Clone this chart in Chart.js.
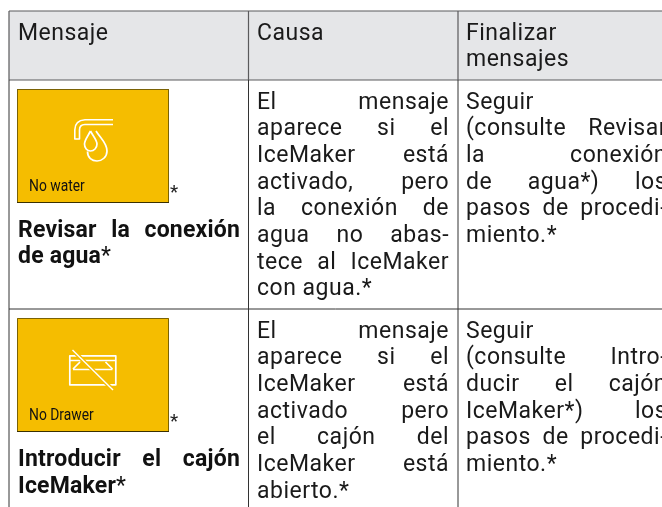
<!DOCTYPE html>
<html>
<head>
<meta charset="utf-8">
<style>
  html, body { margin: 0; padding: 0; background: #fff; }
  canvas { display: block; }
</style>
<script src="https://cdn.jsdelivr.net/npm/chart.js@4"></script>
</head>
<body>
<canvas id="miTabla" width="662" height="507"></canvas>
<script>
// Textos de la tabla
var encabezado_mensaje = ["Mensaje"];
var encabezado_causa = ["Causa"];
var encabezado_finalizar = ["Finalizar", "mensajes"];

var panel_etiquetas = ["No water", "No Drawer"];
var titulo_agua = ["Revisar la conexión", "de agua*"];
var titulo_cajon = ["Introducir el cajón", "IceMaker*"];

var causa_agua = ["El mensaje", "aparece si el", "IceMaker está", "activado, pero", "la conexión de", "agua no abas-", "tece al IceMaker", "con agua.*"];
var causa_cajon = ["El mensaje", "aparece si el", "IceMaker está", "activado pero", "el cajón del", "IceMaker está", "abierto.*"];

var fin_agua = ["Seguir", "(consulte Revisar", "la conexión", "de agua*) los", "pasos de procedi-", "miento.*"];
var fin_cajon = ["Seguir", "(consulte Intro-", "ducir el cajón", "IceMaker*) los", "pasos de procedi-", "miento.*"];

// Geometría de la tabla
var col_x = [9, 248.5, 458];
var fila_y = [11, 80, 309];
var FUENTE = "Roboto, sans-serif";
var TAM = 23;
var PASO = 26.7;

function escribir_linea(c, texto, x, y, derecha, justificar, peso) {
    c.font = peso + " " + TAM + "px " + FUENTE;
    c.letterSpacing = peso === 700 ? "0.2px" : "0.5px";
    var negrita_con_asterisco = peso === 700 && texto.endsWith("*");
    if (negrita_con_asterisco) texto = texto.slice(0, -1);
    var palabras = texto.split(" ");
    var hueco = c.measureText(" ").width;
    if (justificar && palabras.length > 1) {
        var suma = palabras.reduce(function (t, p) { return t + c.measureText(p).width; }, 0);
        hueco = (derecha - x - suma) / (palabras.length - 1);
    }
    var px = x;
    palabras.forEach(function (p) {
        c.fillText(p, px, y);
        px += c.measureText(p).width + hueco;
    });
    if (negrita_con_asterisco) {
        c.font = "400 " + TAM + "px " + FUENTE;
        c.fillText("*", px - hueco, y);
    }
}

// Párrafo justificado: la última línea queda alineada a la izquierda
function escribir_parrafo(c, lineas, x, y, derecha, peso, sueltas) {
    lineas.forEach(function (l, i) {
        var justificar = i < lineas.length - 1 && !(sueltas || []).includes(i);
        escribir_linea(c, l, x, y + i * PASO, derecha, justificar, peso);
    });
}

function dibujar_panel(c, x, y, ancho, alto, etiqueta) {
    c.fillStyle = "#f5bd00";
    c.fillRect(x, y, ancho, alto);
    c.strokeStyle = "#7a6205";
    c.lineWidth = 1;
    c.strokeRect(x + 0.5, y + 0.5, ancho - 1, alto - 1);
    c.strokeStyle = "#3a3000";
    c.beginPath();
    c.moveTo(x, y + alto - 0.5);
    c.lineTo(x + ancho, y + alto - 0.5);
    c.stroke();
    c.save();
    c.fillStyle = "#111";
    c.translate(x + 12, y + alto - 12);
    c.scale(0.84, 1);
    c.font = "400 16.5px " + FUENTE;
    c.letterSpacing = "0px";
    c.fillText(etiqueta, 0, 0);
    c.restore();
    c.fillStyle = "#222";
    c.font = "400 19px " + FUENTE;
    c.letterSpacing = "0px";
    c.fillText("*", x + ancho + 1, y + alto - 5);
}

function icono_agua(c, x, y) {
    c.strokeStyle = "#fff";
    c.lineWidth = 1.6;
    c.lineJoin = "round";
    // grifo
    c.beginPath();
    c.moveTo(x + 39, y + 0.8);
    c.lineTo(x + 11, y + 0.8);
    c.quadraticCurveTo(x + 0.8, y + 1.5, x + 0.8, y + 11);
    c.lineTo(x + 0.8, y + 20);
    c.lineTo(x + 5.5, y + 20);
    c.lineTo(x + 5.5, y + 11);
    c.quadraticCurveTo(x + 5.5, y + 5.5, x + 11, y + 5.5);
    c.lineTo(x + 39, y + 5.5);
    c.stroke();
    // gota grande
    c.lineWidth = 1.7;
    c.beginPath();
    c.moveTo(x + 22, y + 12);
    c.bezierCurveTo(x + 27, y + 20, x + 33, y + 24, x + 33, y + 32);
    c.bezierCurveTo(x + 33, y + 38, x + 28, y + 42, x + 23, y + 42);
    c.bezierCurveTo(x + 18, y + 42, x + 13.5, y + 39, x + 13.5, y + 32.5);
    c.stroke();
    // gota pequeña
    c.beginPath();
    c.moveTo(x + 16.5, y + 12);
    c.bezierCurveTo(x + 19, y + 17, x + 23, y + 21, x + 23, y + 25);
    c.bezierCurveTo(x + 23, y + 29, x + 20, y + 32, x + 16.5, y + 32);
    c.bezierCurveTo(x + 13, y + 32, x + 10.5, y + 29, x + 10.5, y + 25);
    c.bezierCurveTo(x + 10.5, y + 21, x + 14, y + 17, x + 16.5, y + 12);
    c.stroke();
}

function icono_cajon(c, x, y) {
    c.strokeStyle = "#fff";
    c.lineWidth = 1.7;
    c.strokeRect(x + 0.8, y + 0.8, 46, 29);
    c.beginPath();
    c.moveTo(x, y + 5.5);
    c.lineTo(x + 47, y + 5.5);
    c.moveTo(x + 4, y + 14);
    c.lineTo(x + 11, y + 7);
    c.moveTo(x + 43.5, y + 14);
    c.lineTo(x + 36.5, y + 7);
    c.moveTo(x + 4, y + 14.5);
    c.lineTo(x + 43.5, y + 14.5);
    c.stroke();
    // tachado con borde del color del panel
    c.strokeStyle = "#f5bd00";
    c.lineWidth = 4;
    c.beginPath();
    c.moveTo(x + 3.5, y - 5);
    c.lineTo(x + 44, y + 35);
    c.stroke();
    c.strokeStyle = "#fff";
    c.lineWidth = 1.4;
    c.stroke();
}

var tabla_plugin = {
    id: "tabla",
    afterDraw: function (chart) {
        var c = chart.ctx;
        var X = chart.scales.x, Y = chart.scales.y;
        var x0 = X.getPixelForValue(col_x[0]), x1 = X.getPixelForValue(col_x[1]), x2 = X.getPixelForValue(col_x[2]);
        var y0 = Y.getPixelForValue(fila_y[0]), y1 = Y.getPixelForValue(fila_y[1]), y2 = Y.getPixelForValue(fila_y[2]);
        c.save();

        // cabecera
        c.fillStyle = "#e5e6e8";
        c.fillRect(x0, y0, 662 - x0, y1 - y0);

        // líneas
        c.strokeStyle = "#5a5a5c";
        c.lineWidth = 1.2;
        c.beginPath();
        c.moveTo(x0, y0); c.lineTo(662, y0);
        c.moveTo(x0, y1); c.lineTo(662, y1);
        c.moveTo(x0, y0); c.lineTo(x0, y1);
        c.moveTo(x1, y0); c.lineTo(x1, y1);
        c.moveTo(x2, y0); c.lineTo(x2, y1);
        c.stroke();
        c.strokeStyle = "#333";
        c.lineWidth = 1;
        c.beginPath();
        c.moveTo(x0, y1); c.lineTo(x0, 507);
        c.moveTo(x1, y1); c.lineTo(x1, 507);
        c.moveTo(x2, y1); c.lineTo(x2, 507);
        c.moveTo(x0, y2); c.lineTo(662, y2);
        c.stroke();

        // textos de cabecera
        c.fillStyle = "#1a1a1a";
        c.textBaseline = "alphabetic";
        escribir_parrafo(c, encabezado_mensaje, 18, 39.5, 240, 400);
        escribir_parrafo(c, encabezado_causa, 257, 39.5, 449, 400);
        escribir_parrafo(c, encabezado_finalizar, 466, 39.5, 660, 400);

        // paneles
        dibujar_panel(c, 17, 89, 152, 114, panel_etiquetas[0]);
        icono_agua(c, 74, 119);
        dibujar_panel(c, 17, 318, 152, 114, panel_etiquetas[1]);
        icono_cajon(c, 69, 355);

        c.fillStyle = "#111";
        escribir_parrafo(c, titulo_agua, 18, 236.5, 240, 700);
        escribir_parrafo(c, titulo_cajon, 18, 466, 240, 700);

        c.fillStyle = "#1a1a1a";
        escribir_parrafo(c, causa_agua, 257, 108.5, 449, 400);
        escribir_parrafo(c, causa_cajon, 257, 337.5, 449, 400);
        escribir_parrafo(c, fin_agua, 466, 108.5, 667, 400, [0]);
        escribir_parrafo(c, fin_cajon, 466, 337.5, 667, 400, [0]);
        c.restore();
    }
};

var contexto = document.getElementById("miTabla").getContext("2d");
new Chart(contexto, {
    type: "scatter",
    data: { datasets: [{ data: [] }] },
    options: {
        responsive: false,
        animation: false,
        events: [],
        plugins: { legend: { display: false }, tooltip: { enabled: false } },
        scales: {
            x: { type: "linear", display: false, min: 0, max: 662 },
            y: { type: "linear", display: false, min: 0, max: 507, reverse: true }
        }
    },
    plugins: [tabla_plugin]
});
</script>
</body>
</html>
